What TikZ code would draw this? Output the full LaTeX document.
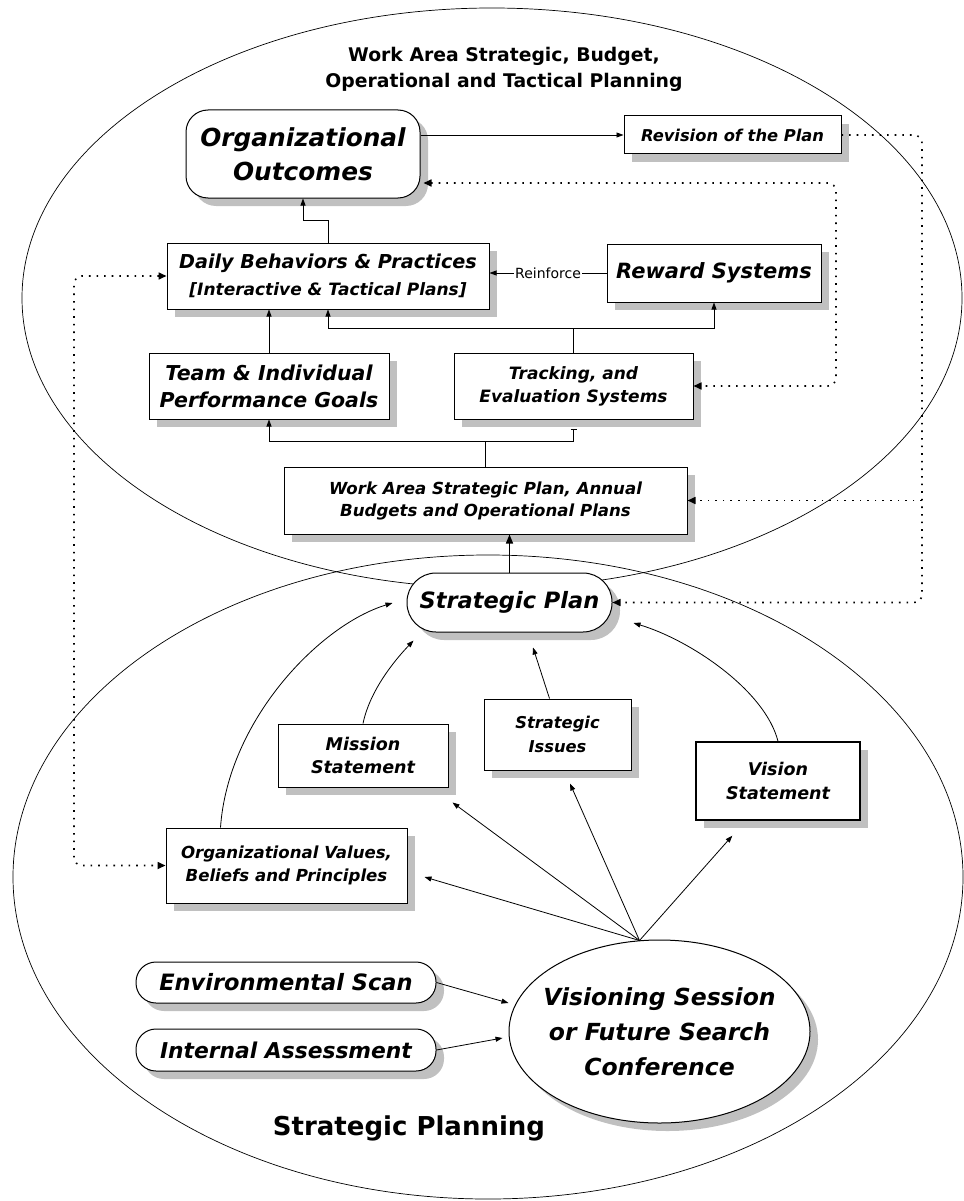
\documentclass[tikz,border=0pt]{standalone}
\usepackage{fontspec}
\setmainfont{DejaVu Sans}
\usepackage{tikz}
\usetikzlibrary{arrows.meta,calc,shadows,shapes.geometric}
\definecolor{shadowgray}{RGB}{192,192,192}
\newcommand{\fsz}[2]{\fontsize{#1}{#2}\selectfont}

\begin{document}
\begin{tikzpicture}[
  x=1pt, y=-1pt,
  box/.style={draw, line width=1pt, fill=white, align=center, inner sep=2pt,
    font=\bfseries\itshape,
    drop shadow={shadow xshift=8pt, shadow yshift=-8pt, fill=shadowgray, opacity=1}},
  pill/.style={box, rounded corners=#1},
  arr/.style={-{Triangle[length=7pt,width=5pt]}, line width=0.8pt},
  dots/.style={line width=1.6pt, dash pattern=on 1.6pt off 6pt, rounded corners=8pt},
  tip/.style={-{Triangle[length=8pt,width=7pt]}},
  tips/.style={{Triangle[length=8pt,width=7pt]}-{Triangle[length=8pt,width=7pt]}},
  rim/.style={line width=0.7pt}
]
\useasboundingbox (0,0) rectangle (963,1201);

% the two planning areas
\draw[rim] (492,298) ellipse [x radius=470pt, y radius=290pt];
\draw[rim] (488,877) ellipse [x radius=475pt, y radius=322pt];

\node[font=\bfseries\fsz{18.8}{26}, align=center] (ttl) at (504,69)
  {Work Area Strategic, Budget,\\Operational and Tactical Planning};
\node[font=\bfseries\fsz{26}{30}] (sptl) at (409,1128) {Strategic Planning};

% work area planning
\node[pill=22pt, minimum width=234pt, minimum height=88pt, font=\bfseries\itshape\fsz{24.8}{34}]
  (outc) at (303,154) {Organizational\\Outcomes};
\node[box, minimum width=217pt, minimum height=38pt, font=\bfseries\itshape\fsz{16.3}{18}]
  (rev) at (732.5,135) {Revision of the Plan};
\node[box, minimum width=322pt, minimum height=66pt, font=\bfseries\itshape\fsz{19.2}{27}]
  (daily) at (328,276) {Daily Behaviors \& Practices\\{\fsz{17}{27}[Interactive \& Tactical Plans]}};
\node[box, minimum width=214pt, minimum height=58pt, font=\bfseries\itshape\fsz{21}{24}]
  (reward) at (714,273) {Reward Systems};
\node[box, minimum width=240pt, minimum height=66pt, font=\bfseries\itshape\fsz{20.5}{27}]
  (team) at (269,386) {Team \& Individual\\Performance Goals};
\node[box, minimum width=239pt, minimum height=66pt, font=\bfseries\itshape\fsz{17}{23}]
  (track) at (573.5,386) {Tracking, and\\Evaluation Systems};
\node[box, minimum width=403pt, minimum height=67pt, font=\bfseries\itshape\fsz{16.6}{22}]
  (work) at (485.5,500.5) {Work Area Strategic Plan, Annual\\Budgets and Operational Plans};

% strategic planning
\node[pill=29pt, minimum width=205pt, minimum height=59pt, font=\bfseries\itshape\fsz{22.5}{26}]
  (splan) at (509.5,602.5) {Strategic Plan};
\node[box, minimum width=170pt, minimum height=63pt, font=\bfseries\itshape\fsz{17.5}{23}]
  (mission) at (363,755.5) {Mission\\Statement};
\node[box, minimum width=147pt, minimum height=71pt, font=\bfseries\itshape\fsz{16.3}{24}]
  (issues) at (557.5,734.5) {Strategic\\Issues};
\node[box, line width=1.4pt, minimum width=164pt, minimum height=78pt, font=\bfseries\itshape\fsz{17.5}{24}]
  (vision) at (778,781) {Vision\\Statement};
\node[box, minimum width=241pt, minimum height=75pt, font=\bfseries\itshape\fsz{16.6}{23}]
  (values) at (286.5,865.5) {Organizational Values,\\Beliefs and Principles};
\node[box, shape=ellipse, inner xsep=-25pt, inner ysep=-10pt, minimum width=301pt, minimum height=183pt,
  font=\bfseries\itshape\fsz{23.5}{35}]
  (vis) at (659.5,1031.5) {Visioning Session\\or Future Search\\Conference};
\node[pill=20pt, minimum width=300pt, minimum height=41pt, font=\bfseries\itshape\fsz{22.5}{26}]
  (env) at (286,982.5) {Environmental Scan};
\node[pill=20pt, minimum width=300pt, minimum height=42pt, font=\bfseries\itshape\fsz{21.8}{26}]
  (int) at (286,1050) {Internal Assessment};

% solid connectors
\draw[arr] (outc.east |- rev.west) -- (rev.west);
\draw[arr] (daily.north) -- ++(0,-22) -| (outc.south);
\draw[arr] (reward.west) -- node[fill=white, inner sep=1pt, font=\fsz{14}{16}] {Reinforce}
  (reward.west -| daily.east);
\draw[arr] (team.north) -- (team.north |- daily.south);
\draw[line width=0.8pt] (track.north) -- ++(0,-24) coordinate (tj);
\draw[arr] (tj) -| (daily.south);
\draw[arr] (tj) -| (reward.south);
\draw[line width=0.8pt] (work.north) -- ++(0,-25) coordinate (wj);
\draw[arr] (wj) -| (team.south);
\draw[line width=0.8pt, -{Bar[width=6pt]}] (wj) -| ([yshift=-9pt]track.south);
\draw[-{Triangle[length=9pt,width=7pt]}, line width=1.4pt] (splan.north) -- (splan.north |- work.south);

% into the strategic plan
\draw[arr] ([xshift=55pt]values.north west) .. controls (228,720) and (320,625) .. ($(splan.west)+(-14,0.5)$);
\draw[arr] (mission.north) .. controls (370,690) and (395,660) .. ($(splan.south west)+(7,8)$);
\draw[arr] ([xshift=-8pt]issues.north) -- ($(splan.south)+(23.5,15)$);
\draw[arr] (vision.north) .. controls (765,690) and (690,640) .. ($(splan.east)+(21,20.5)$);

% out of the visioning session
\coordinate (vtop) at ($(vis.north)+(-20,1)$);
\draw[arr] (vtop) -- ($(values.east)+(17,11.5)$);
\draw[arr] (vtop) -- ($(mission.south east)+(4,15)$);
\draw[arr] (vtop) -- ($(issues.south)+(12.5,13)$);
\draw[arr] (vtop) -- ($(vision.south west)+(37,15)$);
\draw[arr] (env.east) -- ($(vis.west)+(0,-28.5)$);
\draw[arr] (int.east) -- ($(vis.west)+(-6,6.5)$);

% feedback loops
\coordinate (rj) at (922,500.5);
\draw[dots, tip] (rev.east) -| (rj) |- (splan.east);
\draw[dots, tip] (rj) -- (work.east);
\coordinate (oj) at (836,290);
\draw[dots, tips] ($(outc.east)+(3,29)$) -| (oj) |- (track.east);
\coordinate (lj) at (74,570);
\draw[dots, tips] (daily.west) -| (lj) |- (values.west);
\end{tikzpicture}
\end{document}
